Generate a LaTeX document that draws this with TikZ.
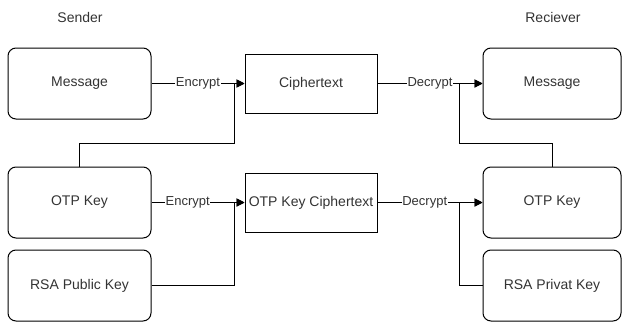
\documentclass[tikz,border=0pt]{standalone}
\usepackage{fontspec}
\setmainfont{Liberation Sans}
\usetikzlibrary{arrows.meta}
\definecolor{textc}{rgb}{0.2,0.2,0.2}
\begin{document}
\begin{tikzpicture}[x=1pt,y=-1pt,
  rbox/.style={draw, line width=1pt, rounded corners=8pt, minimum width=143pt, minimum height=71pt, inner sep=0pt, text=textc, font=\fontsize{14}{16}\selectfont},
  rboxr/.style={rbox, minimum width=138pt},
  sbox/.style={draw, line width=1pt, minimum width=132pt, minimum height=59pt, inner sep=0pt, text=textc, font=\fontsize{14}{16}\selectfont},
  elabel/.style={fill=white, inner sep=0.6pt, text=textc, font=\fontsize{13}{15}\selectfont},
  title/.style={text=textc, font=\fontsize{14}{16}\selectfont},
  conn/.style={line width=1pt, -{Triangle[length=8pt,width=8pt]}}
]
\useasboundingbox (0,0) rectangle (622,322);
\node[title] (sender) at (80,17) {Sender};
\node[title] (receiver) at (553,17) {Reciever};

\node[rbox] (msgL) at (79.5,83.5) {Message};
\node[rbox] (otpL) at (79.5,202.5) {OTP Key};
\node[rbox] (rsaL) at (79.5,285.5) {RSA Public Key};

\node[sbox] (ciph) at (311,83.5) {Ciphertext};
\node[sbox] (otpc) at (311,202.5) {OTP Key Ciphertext};

\node[rboxr] (msgR) at (552,83.5) {Message};
\node[rboxr] (otpR) at (552,202.5) {OTP Key};
\node[rboxr] (rsaR) at (552,285.5) {RSA Privat Key};

\coordinate (jL1) at (234,143);
\coordinate (jL2) at (234,202.5);
\coordinate (jR1) at (459,143);
\coordinate (jR2) at (459,202.5);

\draw[conn] (msgL.east) -- node[elabel] {Encrypt} (ciph.west);
\draw[conn] (otpL.north) |- (jL1) |- (ciph.west);
\draw[conn] (ciph.east) -- node[elabel] {Decrypt} (msgR.west);
\draw[conn] (otpR.north) |- (jR1) |- (msgR.west);

\draw[conn] (otpL.east) -- node[elabel, pos=0.39] {Encrypt} (otpc.west);
\draw[conn] (rsaL.east) -| (jL2) -- (otpc.west);
\draw[conn] (otpc.east) -- node[elabel, pos=0.45] {Decrypt} (otpR.west);
\draw[conn] (rsaR.west) -| (jR2) -- (otpR.west);
\end{tikzpicture}
\end{document}
